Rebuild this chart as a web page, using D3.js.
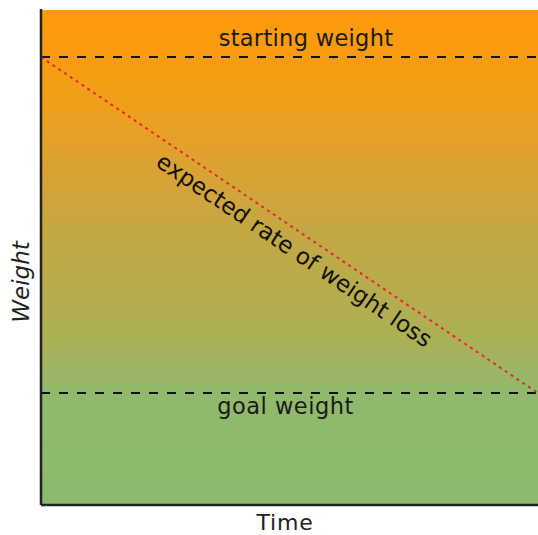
<!DOCTYPE html>
<html><head><meta charset="utf-8">
<script src="https://cdn.jsdelivr.net/npm/d3@7"></script>
<style>html,body{margin:0;padding:0;background:#fff;}svg{display:block;}</style>
</head><body>
<svg id="c" width="538" height="535"></svg>
<script>
// Data
const timeDomain = [0, 1];
const weightDomain = [-33.3, 114];
const referenceLabels = ["starting weight", "goal weight"];
const referenceWeights = [100, 0];
const expectedTimes = [0, 1];
const expectedWeights = [100, 0];
const lineLabel = "expected rate of weight loss";
const axisLabels = ["Time", "Weight"];

const svg = d3.select("#c");
const m = {l: 41, t: 10, r: 0, b: 30};
const W = 538 - m.l - m.r, H = 535 - m.t - m.b;
const g = svg.append("g").attr("transform", `translate(${m.l},${m.t})`);
const x = d3.scaleLinear().domain(timeDomain).range([0, W]);
const y = d3.scaleLinear().domain(weightDomain).range([H, 0]);
const FONT = "DejaVu Sans";

const defs = svg.append("defs");
const grad = defs.append("linearGradient").attr("id","bg")
  .attr("gradientUnits","userSpaceOnUse").attr("x1",0).attr("x2",0)
  .attr("y1",0).attr("y2",H);
const yS = y(100)/H, yG = y(0)/H;
[[0,"#fd9a0a"],[yS,"#f99b10"],[yS+0.1,"#eea01c"],[yS+0.22,"#dba232"],[(yS+yG)/2,"#c6a742"],[yG-0.1,"#aab056"],[yG-0.03,"#98b766"],[yG,"#91b96b"],[1,"#8bba6e"]]
  .forEach(([o,c]) => grad.append("stop").attr("offset",o).attr("stop-color",c));

g.append("rect").attr("x",0).attr("y",0).attr("width",W).attr("height",H).attr("fill","url(#bg)");

// reference lines
g.selectAll(".ref").data(referenceWeights).join("line")
  .attr("x1",0).attr("x2",W).attr("y1",d=>y(d)).attr("y2",d=>y(d))
  .attr("stroke","#111").attr("stroke-width",2).attr("stroke-dasharray","9,9");

g.append("text").attr("x", 306 - m.l).attr("y", y(100)-11).attr("text-anchor","middle")
  .attr("font-family",FONT).attr("font-size",22.5).attr("letter-spacing",0.3).attr("fill","#1a1a1a").text(referenceLabels[0]);
g.append("text").attr("x", 285.5 - m.l).attr("y", y(0)+21).attr("text-anchor","middle")
  .attr("font-family",FONT).attr("font-size",22.5).attr("letter-spacing",0.5).attr("fill","#1a1a1a").text(referenceLabels[1]);

// expected line
const line = d3.line().x((d,i)=>x(expectedTimes[i])).y(d=>y(d));
g.append("path").datum(expectedWeights).attr("d", line).attr("fill","none")
  .attr("stroke","#e8262e").attr("stroke-width",2).attr("stroke-dasharray","3,4");

const x0 = x(expectedTimes[0]), y0 = y(expectedWeights[0]);
const x1 = x(expectedTimes[1]), y1 = y(expectedWeights[1]);
const ang = Math.atan2(y1-y0, x1-x0)*180/Math.PI;
const cx = x0 + (x1-x0)*0.53, cy = y0 + (y1-y0)*0.53;
g.append("text").attr("transform", `translate(${cx},${cy}) rotate(${ang}) translate(0,26)`)
  .attr("text-anchor","middle").attr("font-family",FONT).attr("font-size",23)
  .attr("fill","#111").text(lineLabel);

// axes frame
g.append("line").attr("x1",0).attr("x2",0).attr("y1",-1).attr("y2",H).attr("stroke","#222").attr("stroke-width",2.5);
g.append("line").attr("x1",0).attr("x2",W).attr("y1",H).attr("y2",H).attr("stroke","#222").attr("stroke-width",2.5);

svg.append("text").attr("x", 285).attr("y", 530).attr("text-anchor","middle")
  .attr("font-family",FONT).attr("font-size",22).attr("letter-spacing",0.8).attr("fill","#222").text(axisLabels[0]);
svg.append("text").attr("transform", `translate(29,282) rotate(-90)`).attr("text-anchor","middle")
  .attr("font-family",FONT).attr("font-style","italic").attr("font-size",23).attr("fill","#222").text(axisLabels[1]);
</script>
</body></html>
